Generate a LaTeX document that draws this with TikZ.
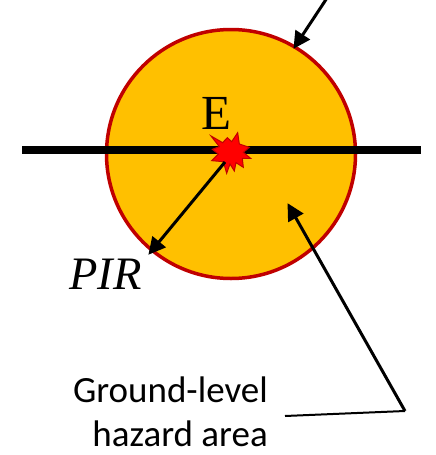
\documentclass[tikz,border=0pt]{standalone}
\usepackage{fontspec}
\setmainfont{Liberation Serif}
\newfontfamily\calib{Carlito}
\usetikzlibrary{arrows.meta}
\definecolor{hazfill}{HTML}{FFC000}
\definecolor{hazline}{HTML}{C00000}
\tikzset{
  x=1pt,y=-1pt,
  hazard/.style={circle,draw=hazline,fill=hazfill,line width=3.5pt,minimum size=249pt,inner sep=0pt},
  ground/.style={line width=8pt,draw=black},
  pointer/.style={line width=3pt,draw=black,-{Triangle[length=17pt,width=17pt]},shorten >=-1pt},
  leader/.style={line width=2pt,draw=black,line join=miter},
  blast/.style={fill=red,draw=hazline,line width=1pt,line join=miter},
  serifbig/.style={font=\fontsize{49}{49}\selectfont,inner sep=0pt},
  caption/.style={font=\calib\fontsize{37}{44}\selectfont,inner sep=0pt,align=right,anchor=base east}
}
\begin{document}
\begin{tikzpicture}
\useasboundingbox (0,0) rectangle (436,455);
\node[hazard] (area) at (231,154) {};
\coordinate (gl) at (22,150);
\coordinate (gr) at (421,150);
\draw[ground] (gl) -- (gr);
\node[serifbig,anchor=base] (E) at (216,129) {E};
\begin{scope}[shift={(180,90)},x=0.3333pt,y=-0.3333pt]
\draw[blast] (93,138)--(128,158)--(142,143)--(155,155)--(173,128)--(178,162)--(208,172)--(190,187)--(212,205)--(187,205)--(190,232)--(168,218)--(163,243)--(150,222)--(140,250)--(130,215)--(95,212)--(115,192)--(97,178)--(118,170)--cycle;
\end{scope}
\coordinate (blastfoot) at (225,162);
\coordinate (pirtip) at (149,254);
\coordinate (rimstart) at (327,-2);
\coordinate (rimtip) at (294,48);
\coordinate (areatip) at (288,204);
\coordinate (elbow) at (405,411);
\coordinate (capend) at (285,416);
\draw[pointer] (blastfoot) -- (pirtip);
\draw[pointer] (rimstart) -- (rimtip);
\draw[pointer] (elbow) -- (areatip);
\draw[leader] (capend) -- (elbow);
\node[font=\itshape\fontsize{46.5}{46.5}\selectfont,inner sep=0pt,anchor=base west] (pir) at (69,289) {PIR};
\node[caption] (cap) at (268,446) {Ground-level\\hazard area};
\end{tikzpicture}
\end{document}
